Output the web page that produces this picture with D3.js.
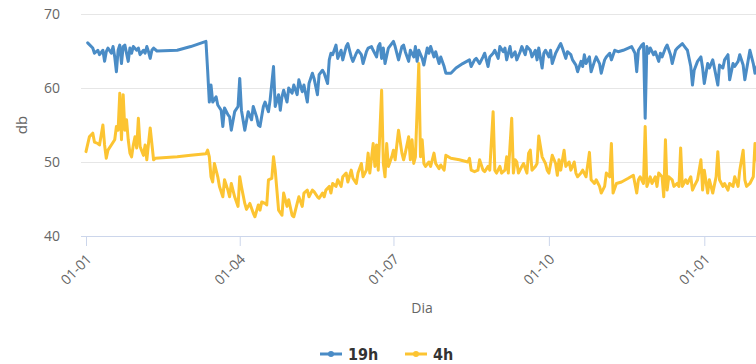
<!DOCTYPE html>
<html>
<head>
<meta charset="utf-8">
<script src="https://cdn.jsdelivr.net/npm/d3@7/dist/d3.min.js"></script>
<style>
  html, body { margin: 0; padding: 0; background: #fff; overflow: hidden; }
  svg { display: block; }
</style>
</head>
<body>
<svg id="chart" width="756" height="364"></svg>
<script>
// ---- data ----
const startDate = "2016-01-01";
const yTicks = [40, 50, 60, 70];
const xTickDates = ["2016-01-01", "2016-04-01", "2016-07-01", "2016-10-01", "2017-01-01"];
const seriesNames = ["19h", "4h"];
const seriesColors = ["#4a8cc6", "#fcc432"];

// day offsets (days since 2016-01-01) and dB values, series "19h"
const days19 = [1,4,5,7,8,10,11,12,13,15,16,17,18,19,20,21,22,23,25,26,27,28,30,31,32,34,35,36,37,38,39,40,42,54,62,71,72,73,74,75,77,78,80,81,82,84,85,86,88,90,91,92,94,96,98,99,101,102,103,105,106,108,109,111,112,114,115,116,117,119,120,122,123,125,126,128,129,131,132,134,135,137,138,140,141,143,144,145,146,148,149,151,152,154,155,157,158,160,161,163,164,166,167,169,170,172,173,174,175,176,177,179,181,182,183,185,187,188,189,191,192,194,195,196,197,199,200,202,203,204,206,207,209,210,212,213,216,219,223,227,228,230,231,233,235,236,238,239,241,242,244,245,247,248,249,251,252,254,255,257,258,260,261,263,264,266,267,268,270,271,272,274,275,276,278,280,281,282,284,285,287,288,290,291,293,294,295,296,298,299,301,302,304,305,307,308,310,311,313,315,318,321,323,325,326,327,329,330,331,332,333,334,336,337,339,340,341,343,344,346,347,349,350,352,353,355,356,358,359,360,362,364,365,366,368,369,371,372,374,375,377,378,380,381,383,384,386,387,389,390,392,393,395,396,398,400];
const db19 = [66.1,65.4,64.7,65.1,64.5,65.1,63.6,64.9,65.4,64.7,65.6,64.2,62.2,65.1,65.8,63.3,65.6,65.8,63.6,65.4,64.7,65.6,65.1,65.4,64.5,65.1,64.7,65.6,64.9,64.0,65.1,65.4,65.0,65.1,65.6,66.3,62.4,58.1,60.4,58.1,58.8,57.7,57.0,54.8,57.3,56.4,56.1,54.3,56.8,57.5,61.3,57.0,54.3,56.8,55.7,57.5,56.1,55.0,54.8,57.5,58.1,56.8,58.4,62.9,57.5,59.1,57.0,58.8,59.7,58.1,60.0,59.3,60.4,59.1,61.1,59.5,60.4,58.1,60.6,62.0,61.3,59.1,61.8,62.4,62.0,60.6,63.8,64.7,64.5,65.8,64.0,65.1,63.8,65.6,66.0,64.2,63.6,64.7,65.1,64.5,63.3,64.9,65.4,65.6,65.1,64.2,65.6,66.0,64.0,65.4,63.3,65.4,66.0,66.3,65.6,63.8,65.6,65.8,64.9,63.6,65.1,64.2,65.6,63.6,65.1,64.0,63.1,65.4,64.7,65.6,64.2,64.9,63.3,64.2,62.9,62.0,62.0,62.7,63.3,63.8,62.9,63.8,64.0,63.3,64.2,64.7,62.9,64.2,64.7,65.1,64.0,65.6,64.9,65.4,63.8,65.6,64.2,64.9,63.8,64.9,65.6,64.5,65.6,65.1,64.2,65.1,63.8,65.4,62.7,64.7,65.1,64.2,65.1,63.3,64.7,65.6,66.0,65.4,64.0,64.9,64.5,63.8,63.1,62.2,63.6,62.9,64.5,63.3,64.2,62.2,63.6,64.2,63.3,62.0,63.8,64.2,64.7,63.8,65.1,64.9,65.1,65.4,65.6,64.7,62.2,65.1,65.8,66.0,55.9,65.6,64.7,65.4,64.5,64.9,63.6,64.7,64.2,65.4,65.8,64.5,63.3,65.1,65.4,65.8,66.0,65.4,65.1,62.9,60.4,62.4,63.6,64.2,62.7,60.6,63.3,62.7,63.8,62.7,60.4,63.1,62.7,63.8,64.5,61.1,63.3,62.9,63.6,64.5,63.1,61.1,63.8,65.1,63.3,62.0,63.5,64.2];

// series "4h"
const days4 = [0,2,4,5,7,8,10,11,12,13,15,17,18,19,20,21,22,23,24,25,26,27,28,29,30,31,32,34,35,36,37,38,40,41,54,62,71,72,73,74,75,76,78,79,81,82,84,85,86,88,90,91,92,94,95,97,99,100,102,103,104,106,107,108,110,111,112,113,114,116,117,119,120,122,123,125,126,128,129,131,132,134,135,137,138,140,141,142,144,145,146,148,149,151,152,154,155,157,158,160,161,163,164,166,167,168,170,171,172,173,175,176,177,178,179,181,182,183,185,187,188,189,191,192,193,194,195,197,198,199,200,201,203,204,206,207,209,210,212,213,216,221,226,227,228,230,232,233,235,236,238,239,241,242,243,245,246,248,249,250,252,253,254,255,256,258,259,261,262,263,264,266,267,268,270,272,273,274,276,278,279,280,281,283,284,286,287,289,290,291,293,294,296,298,299,301,302,304,305,307,308,310,311,312,314,317,321,324,326,327,328,330,331,332,334,335,337,338,339,341,342,343,344,345,347,348,350,351,352,353,355,356,358,359,360,362,364,365,366,368,369,370,371,373,374,375,377,378,380,381,383,384,386,387,389,390,391,393,395,396,398,400];
const db4 = [51.4,53.4,53.9,52.7,52.5,52.3,55.0,52.3,50.5,51.6,52.3,53.0,54.8,54.3,59.3,53.0,59.1,54.3,55.7,53.0,51.2,50.7,52.3,53.4,51.9,55.9,52.1,50.9,52.3,50.3,52.5,54.6,50.3,50.5,50.7,50.9,51.1,51.6,50.7,48.0,47.3,49.8,48.0,46.7,45.3,47.6,46.2,45.3,47.1,45.3,44.0,48.0,46.7,44.4,43.6,44.4,43.1,42.6,44.2,43.5,44.6,44.4,44.2,47.6,47.8,50.7,48.9,46.2,43.5,42.8,45.8,44.0,44.9,42.8,42.6,44.4,45.3,44.0,45.8,46.2,45.3,46.2,46.0,45.3,45.1,45.8,45.3,46.2,46.7,45.8,47.1,46.7,47.6,46.7,48.0,48.5,47.3,48.9,47.8,47.1,48.5,49.8,48.0,48.9,51.2,48.5,52.5,49.4,52.3,48.9,59.7,49.8,48.0,52.5,49.4,50.7,51.6,50.3,54.3,51.2,50.3,51.2,53.4,50.3,53.0,49.8,50.7,63.3,50.7,53.0,49.8,49.4,50.0,49.4,51.2,49.8,49.1,49.6,48.9,50.9,50.5,50.3,50.0,50.5,48.9,48.7,48.9,50.3,48.9,48.7,49.4,48.9,56.8,48.9,48.5,49.4,48.5,48.9,50.7,48.5,55.9,48.5,50.3,50.0,48.5,49.4,49.8,48.5,51.2,51.6,48.9,49.4,49.8,53.5,50.7,49.8,48.9,48.5,50.9,49.8,48.2,50.3,48.9,51.6,49.4,50.0,48.9,50.0,48.5,48.0,48.5,48.9,48.0,51.3,47.6,47.1,47.6,46.7,45.8,46.7,48.5,48.0,52.5,45.8,47.1,47.3,47.8,48.2,45.8,47.6,48.0,47.1,54.8,46.7,48.0,47.1,48.0,46.7,48.5,48.0,45.3,53.0,46.2,48.0,47.6,46.7,47.1,46.7,51.9,46.7,47.6,47.1,48.0,46.2,46.7,47.6,50.3,46.2,48.9,45.8,47.6,46.7,45.8,48.0,51.4,47.6,46.7,47.1,46.2,47.1,46.7,48.0,46.7,48.9,51.6,47.6,46.7,47.1,48.0,52.5,49.0,48.0];

// ---- chart ----
const svg = d3.select("#chart");
const parse = d3.utcParse("%Y-%m-%d");
const t0 = parse(startDate);
const plotLeft = 81, plotRight = 760, plotTop = 14, plotBottom = 236;

const x = d3.scaleUtc()
  .domain([parse(xTickDates[0]), parse(xTickDates[4])])
  .range([86, 704.3]);
const y = d3.scaleLinear().domain([40, 70]).range([plotBottom, plotTop]);

const labelFont = "'Open Sans', 'DejaVu Sans', sans-serif";

// y grid + labels
const yAxis = d3.axisLeft(y).tickValues(yTicks).tickSize(-(plotRight - plotLeft)).tickPadding(21);
const gy = svg.append("g").attr("transform", `translate(${plotLeft},0)`).call(yAxis);
gy.select(".domain").remove();
gy.selectAll(".tick line").attr("stroke", "#e6e6e6").attr("stroke-width", 1);
gy.selectAll(".tick text").attr("fill", "#666").attr("font-size", 14).attr("font-family", labelFont);

// x axis baseline
svg.append("line")
  .attr("x1", plotLeft).attr("x2", plotRight)
  .attr("y1", y(40) + 0.5).attr("y2", y(40) + 0.5)
  .attr("stroke", "#ccd6eb").attr("stroke-width", 1);

// x ticks + labels
const xAxis = d3.axisBottom(x)
  .tickValues(xTickDates.map(parse))
  .tickSize(10).tickSizeOuter(0)
  .tickFormat(d3.utcFormat("%d-%m"));
const gx = svg.append("g").attr("transform", `translate(0,${plotBottom})`).call(xAxis);
gx.select(".domain").remove();
gx.selectAll(".tick line").attr("stroke", "#ccd6eb");
gx.selectAll(".tick text")
  .attr("fill", "#666").attr("font-size", 14).attr("font-family", labelFont)
  .attr("text-anchor", "end")
  .attr("dy", null).attr("y", null)
  .attr("transform", "translate(6,24) rotate(-45)");

// axis titles
svg.append("text")
  .attr("x", 422).attr("y", 313)
  .attr("text-anchor", "middle")
  .attr("fill", "#666").attr("font-size", 14).attr("font-family", labelFont)
  .text("Dia");
svg.append("text")
  .attr("transform", `translate(27,${(plotTop + plotBottom) / 2}) rotate(-90)`)
  .attr("text-anchor", "middle")
  .attr("fill", "#666").attr("font-size", 15).attr("font-family", labelFont)
  .text("db");

// lines
const line = d3.line()
  .x(d => x(d3.utcDay.offset(t0, d[0])))
  .y(d => y(d[1]))
  .curve(d3.curveLinear);

const series = [
  d3.zip(days19, db19),
  d3.zip(days4, db4)
];

svg.append("defs").append("clipPath").attr("id", "plotclip")
  .append("rect").attr("x", plotLeft).attr("y", 0)
  .attr("width", plotRight - plotLeft).attr("height", plotBottom + 2);

const gl = svg.append("g").attr("clip-path", "url(#plotclip)");
// draw 4h first so 19h is on top
[1, 0].forEach(i => {
  gl.append("path")
    .datum(series[i])
    .attr("fill", "none")
    .attr("stroke", seriesColors[i])
    .attr("stroke-width", 3)
    .attr("stroke-linejoin", "round")
    .attr("stroke-linecap", "round")
    .attr("d", line);
});

// legend
const legendItems = [
  { name: seriesNames[0], color: seriesColors[0], x: 320 },
  { name: seriesNames[1], color: seriesColors[1], x: 405 }
];
const lg = svg.append("g");
legendItems.forEach(it => {
  const g = lg.append("g").attr("transform", `translate(${it.x},354)`);
  g.append("line").attr("x1", 0).attr("x2", 22).attr("y1", 0).attr("y2", 0)
    .attr("stroke", it.color).attr("stroke-width", 3);
  g.append("circle").attr("cx", 11).attr("cy", 0).attr("r", 3).attr("fill", it.color);
  g.append("text").attr("x", 28).attr("y", 6)
    .attr("fill", "#333").attr("font-size", 16).attr("font-weight", "bold")
    .attr("font-family", "'DejaVu Sans Condensed', 'DejaVu Sans', sans-serif")
    .text(it.name);
});
</script>
</body>
</html>
